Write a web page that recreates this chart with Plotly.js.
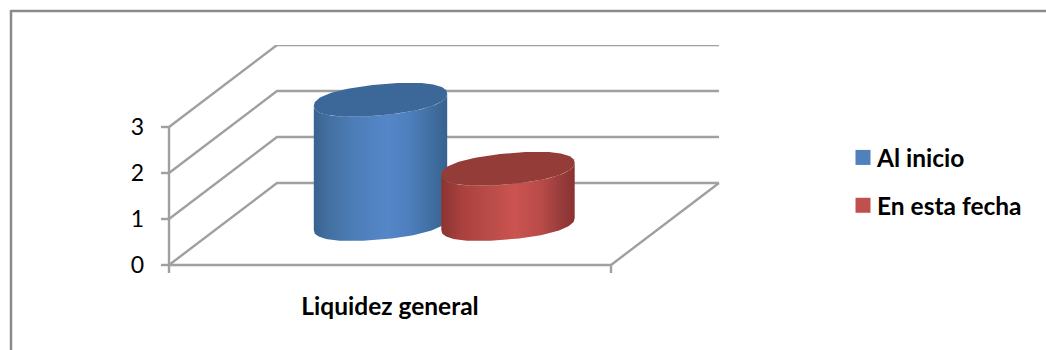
<!DOCTYPE html>
<html lang="es">
<head>
<meta charset="utf-8">
<title>Liquidez general</title>
<script src="https://cdn.plot.ly/plotly-3.0.1.min.js"></script>
<style>html,body{margin:0;padding:0;background:#fff}#chart{width:1046px;height:350px}</style>
</head>
<body>
<div id="chart"></div>
<script>
// Chart content
const categories = ["Liquidez general"];
const seriesNames = ["Al inicio", "En esta fecha"];
const seriesValues = [2.7, 1.2];
const axisTicks = [0, 1, 2, 3];

// Page geometry in pixels; the plot area leaves room for the tick stubs
const W = 1046, H = 350;
const stub = 8;
const M = {l: 161, r: 0, t: 45, b: 77};
const plotW = W - M.l - M.r, plotH = H - M.t - M.b;
const pxPerUnit = 46;
const toUnits = px => px / pxPerUnit;

// Oblique projection: depth 0 is the front edge of the floor, depth 1 the back wall
const floorWidth = 442, depthX = 108, depthY = toUnits(82);
const project = (x, y, d) => [x + d * depthX, y + d * depthY];

// Cylinder shape; rimPower below 1 rounds the tips of the tilted rim
const radiusX = 66.7, shear = toUnits(6), radiusY = toUnits(15.5), rimPower = 0.88;
const seriesCentres = [157.5, 285];
const midDepth = 0.5;

const bodyScales = [
  [[0, "#39628f"], [0.1, "#426f9f"], [0.3, "#4d7db8"], [0.55, "#5586c8"], [0.72, "#4d7fbd"], [0.9, "#3f6d9f"], [1, "#38618e"]],
  [[0, "#8c3431"], [0.15, "#a9413e"], [0.4, "#bd4d4a"], [0.55, "#cb5451"], [0.75, "#b84b48"], [0.92, "#94393a"], [1, "#8a3331"]]
];
const topColours = ["#3c6899", "#943c38"];
const keyColours = ["#4f81bd", "#c0504d"];
const lineColour = "#a0a0a0";
const font = "Lato, 'Open Sans', sans-serif";

// Point on the rim of a cylinder at height v, angle t
const soft = a => Math.sign(a) * Math.pow(Math.abs(a), rimPower);
function rim(cx, v, t) {
  const [x0, y0] = project(cx, v, midDepth);
  const c = soft(Math.cos(t)), s = soft(Math.sin(t));
  return [x0 + radiusX * c, y0 + shear * c + radiusY * s];
}
function arc(cx, v, from, to, n = 72) {
  const pts = [];
  for (let i = 0; i <= n; i++) pts.push(rim(cx, v, from + (to - from) * i / n));
  return pts;
}
const xs = pts => pts.map(p => p[0]);
const ys = pts => pts.map(p => p[1]);

// Walls, floor and axis line with their tick stubs
const frame = [];
const seg = (...pts) => { frame.push(...pts, [null, null]); };
axisTicks.forEach(v => {
  seg(project(0, v, 0), project(0, v, 1), project(floorWidth, v, 1));
  seg([-stub, v], [0, v]);
});
seg(project(floorWidth, 0, 1), project(floorWidth, 0, 0), project(0, 0, 0));
seg([0, axisTicks[axisTicks.length - 1]], [0, -toUnits(stub)]);
seg([floorWidth, 0], [floorWidth, -toUnits(stub)]);

const traces = [{
  type: "scatter", mode: "lines", x: xs(frame), y: ys(frame),
  line: {color: lineColour, width: 2.4}, connectgaps: false,
  showlegend: false, hoverinfo: "skip"
}];

seriesValues.forEach((v, i) => {
  const cx = seriesCentres[i];
  const body = arc(cx, 0, Math.PI, 2 * Math.PI).concat(arc(cx, v, 2 * Math.PI, Math.PI));
  const cap = arc(cx, v, 0, 2 * Math.PI, 144);
  traces.push({
    type: "scatter", mode: "lines", x: xs(body), y: ys(body), fill: "toself",
    fillgradient: {type: "horizontal", colorscale: bodyScales[i]},
    line: {width: 0}, name: seriesNames[i], showlegend: false,
    hovertemplate: seriesNames[i] + ": " + v + "<extra></extra>"
  });
  traces.push({
    type: "scatter", mode: "lines", x: xs(cap), y: ys(cap), fill: "toself",
    fillcolor: topColours[i], line: {width: 0}, showlegend: false, hoverinfo: "skip"
  });
});

// Legend-only entries
seriesNames.forEach((name, i) => traces.push({
  type: "scatter", mode: "markers", x: [null], y: [null], name,
  legendgroup: name,
  marker: {symbol: "square", size: 15, color: keyColours[i], angle: 90, standoff: 6}
}));

const pageLine = {type: "line", xref: "paper", yref: "paper", line: {color: "#8a8a8a", width: 2.5}};
const paperX = px => (px - M.l) / plotW;
const paperY = px => (H - M.b - px) / plotH;

const layout = {
  width: W, height: H,
  margin: M,
  paper_bgcolor: "#ffffff", plot_bgcolor: "rgba(0,0,0,0)",
  font: {family: font, color: "#000000", size: 20},
  xaxis: {
    range: [-stub, plotW - stub], showgrid: false, zeroline: false, showline: false, ticks: "",
    tickvals: [floorWidth / 2], ticktext: ["<b>" + categories[0] + "</b>"],
    tickfont: {family: font, size: 24.5, color: "#000000"}, ticklabelstandoff: 16,
    fixedrange: true
  },
  yaxis: {
    range: [-toUnits(stub), toUnits(plotH - stub)], showgrid: false, zeroline: false, showline: false,
    ticks: "",
    tickvals: axisTicks, ticktext: axisTicks.map(String), ticklabelstandoff: 16,
    tickfont: {family: font, size: 23, color: "#000000"}, fixedrange: true
  },
  legend: {
    xref: "paper", yref: "paper", x: paperX(837), y: paperY(135),
    xanchor: "left", yanchor: "top", bgcolor: "rgba(0,0,0,0)",
    font: {family: font, size: 24.5, color: "#000000", weight: 700},
    tracegroupgap: 13, itemsizing: "trace", itemclick: false, itemdoubleclick: false
  },
  shapes: [
    Object.assign({x0: paperX(11), x1: paperX(W), y0: paperY(11), y1: paperY(11)}, pageLine),
    Object.assign({x0: paperX(11), x1: paperX(11), y0: paperY(10), y1: paperY(H)}, pageLine)
  ]
};

Plotly.newPlot("chart", traces, layout, {displayModeBar: false, responsive: false});
</script>
</body>
</html>
